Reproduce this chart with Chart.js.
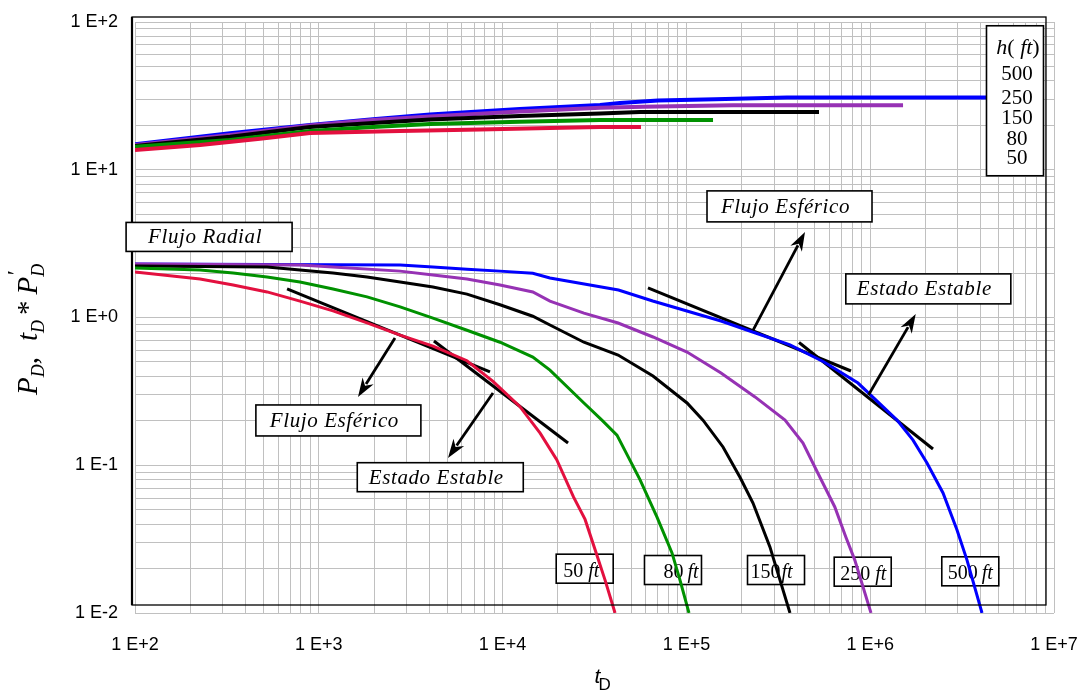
<!DOCTYPE html>
<html>
<head>
<meta charset="utf-8">
<title>PD y tD*PD' para varios espesores</title>
<script src="https://cdn.jsdelivr.net/npm/chart.js"></script>
<style>
    html, body { margin: 0; padding: 0; background: #fff; }
    #cont { width: 1087px; height: 694px; }
</style>
</head>
<body>
<div id="cont"><canvas id="grafico" width="1087" height="694"></canvas></div>
<script>
// ---- datos (tD, PD y tD*PD') ----
// h = 50 ft
const tPres50 = [100, 226, 479, 896, 2770, 7540, 18100, 33900, 56600];
const pres50 = [13.6, 14.7, 16.2, 17.7, 18.3, 18.7, 19.2, 19.5, 19.5];
const tDer50 = [100, 226, 342, 523, 790, 1195, 1830, 2770, 4180, 6400, 8870, 12400, 16000, 19700, 24300, 28100, 31800, 36100, 40900];
const der50 = [2.03, 1.82, 1.66, 1.49, 1.29, 1.11, 0.92, 0.76, 0.64, 0.51, 0.37, 0.25, 0.165, 0.109, 0.061, 0.043, 0.027, 0.0167, 0.0100];

// h = 80 ft
const tPres80 = [100, 329, 896, 1970, 4030, 12400, 33900, 139600];
const pres80 = [14.3, 15.9, 18.3, 19.5, 20.4, 21.1, 21.7, 21.7];
const tDer80 = [100, 226, 342, 523, 790, 1195, 1830, 2770, 4180, 6400, 9680, 14600, 18100, 27700, 34700, 41900, 55900, 69200, 83500, 92300, 103300];
const der80 = [2.16, 2.10, 2.00, 1.88, 1.74, 1.56, 1.38, 1.18, 0.99, 0.82, 0.68, 0.54, 0.44, 0.264, 0.202, 0.160, 0.080, 0.0446, 0.0255, 0.0167, 0.0100];

// h = 150 ft
const tPres150 = [100, 329, 896, 1970, 4030, 12400, 33900, 55900, 526600];
const pres150 = [14.5, 16.7, 19.5, 20.7, 21.9, 23.1, 24.0, 24.6, 24.6];
const tDer150 = [100, 523, 790, 1195, 1830, 2770, 4180, 6400, 9680, 14600, 18100, 27700, 42500, 65800, 100800, 123100, 158200, 195700, 230300, 284700, 366100];
const der150 = [2.23, 2.20, 2.10, 2.00, 1.88, 1.74, 1.61, 1.44, 1.22, 1.02, 0.89, 0.68, 0.557, 0.402, 0.264, 0.202, 0.133, 0.083, 0.0555, 0.028, 0.0100];

// h = 250 ft
const tPres250 = [100, 329, 896, 1970, 4030, 12400, 33900, 58000, 179300, 1509000];
const pres250 = [14.7, 17.2, 19.9, 21.7, 22.9, 24.8, 26.3, 26.7, 27.3, 27.3];
const tDer250 = [100, 790, 1195, 2770, 4180, 6400, 9680, 14600, 18100, 27700, 42500, 65800, 100800, 154300, 236200, 344000, 430900, 518600, 641800, 736800, 824500, 1010000];
const der250 = [2.30, 2.27, 2.20, 2.06, 1.94, 1.82, 1.66, 1.49, 1.29, 1.07, 0.918, 0.738, 0.584, 0.421, 0.290, 0.202, 0.1415, 0.0886, 0.0522, 0.0327, 0.0228, 0.0100];

// h = 500 ft
const tPres500 = [100, 329, 896, 1970, 4030, 12400, 33900, 43500, 70100, 143100, 352600, 4320000];
const pres500 = [14.9, 17.7, 20.1, 22.0, 23.7, 25.8, 27.4, 28.3, 29.4, 30.0, 30.8, 30.8];
const tDer500 = [100, 2770, 4180, 6400, 9680, 14600, 18100, 42700, 65600, 154300, 237700, 366100, 560700, 858300, 1399000, 1710000, 2037000, 2490000, 2967000, 3363000, 4058000];
const der500 = [2.30, 2.27, 2.20, 2.12, 2.06, 1.99, 1.85, 1.535, 1.293, 0.947, 0.785, 0.652, 0.500, 0.360, 0.202, 0.148, 0.1036, 0.0649, 0.0365, 0.0228, 0.0100];

// rectas tangentes (flujo esferico y estado estable), extremos en tD / valor
const tTangentes = [[672, 8540], [4230, 22700], [61800, 786000], [410000, 2196000]];
const vTangentes = [[1.56, 0.428], [0.693, 0.1415], [1.584, 0.4345], [0.677, 0.1288]];

// ejes
const decadasX = [1e2, 1e3, 1e4, 1e5, 1e6, 1e7];
const etiquetasX = ['1 E+2', '1 E+3', '1 E+4', '1 E+5', '1 E+6', '1 E+7'];
const decadasY = [1e-2, 1e-1, 1, 10, 100];
const etiquetasY = ['1 E-2', '1 E-1', '1 E+0', '1 E+1', '1 E+2'];

const espesores = ['50', '80', '150', '250', '500'];
const colores = ['#e3103f', '#009100', '#000000', '#9632b4', '#0000ff'];

// ---- anotaciones (posicion en coordenadas de datos) ----
const cajas = [
    { texto: 'Flujo Radial', t: 253, v: 3.51, w: 166, h: 29 },
    { texto: 'Flujo Esférico', t: 1278, v: 0.201, w: 165, h: 31 },
    { texto: 'Estado Estable', t: 4580, v: 0.083, w: 166, h: 29 },
    { texto: 'Flujo Esférico', t: 363900, v: 5.65, w: 165, h: 31 },
    { texto: 'Estado Estable', t: 2071000, v: 1.562, w: 165, h: 30 }
];
const flechas = [
    { t0: 2597, v0: 0.727, t1: 1634, v1: 0.290 },
    { t0: 8866, v0: 0.308, t1: 5045, v1: 0.112 },
    { t0: 230300, v0: 0.817, t1: 441900, v1: 3.79 },
    { t0: 979000, v0: 0.299, t1: 1769000, v1: 1.056 }
];
const cajasH = [
    { t: 27970, v: 0.01995, pad: 7, sep: 5 },
    { t: 84530, v: 0.01954, pad: 19, sep: 4 },
    { t: 307300, v: 0.01954, pad: 3, sep: 1 },
    { t: 910500, v: 0.01904, pad: 6, sep: 5 },
    { t: 3504000, v: 0.01915, pad: 6, sep: 4 }
];
const leyenda = { t: 6134000, v: 29.3, w: 57, h: 150 };

const SERIF = '"Liberation Serif", "Times New Roman", serif';
const SANS = '"Liberation Sans", Arial, sans-serif';

function serie(ts, vs, color, ancho) {
    return {
        data: ts.map((t, i) => ({ x: t, y: vs[i] })),
        borderColor: color,
        backgroundColor: color,
        borderWidth: ancho,
        showLine: true,
        pointRadius: 0,
        fill: false,
        tension: 0
    };
}

function ticksLog(min, max) {
    const out = [];
    for (let e = Math.round(Math.log10(min)); e < Math.round(Math.log10(max)); e++) {
        for (let m = 1; m < 10; m++) {
            out.push({ value: Number((m * Math.pow(10, e)).toPrecision(6)) });
        }
    }
    out.push({ value: max });
    return out;
}

function etiqueta(valor, decadas, textos) {
    const i = decadas.findIndex(d => Math.abs(d - valor) / d < 1e-6);
    return i >= 0 ? textos[i] : '';
}

function caja(ctx, cx, cy, w, h) {
    ctx.fillStyle = '#fff';
    ctx.fillRect(cx - w / 2, cy - h / 2, w, h);
    ctx.strokeStyle = '#000';
    ctx.lineWidth = 1.6;
    ctx.strokeRect(cx - w / 2, cy - h / 2, w, h);
}

function flecha(ctx, x0, y0, x1, y1) {
    const ang = Math.atan2(y1 - y0, x1 - x0);
    const largo = 19, medio = 6.5;
    ctx.strokeStyle = '#000';
    ctx.fillStyle = '#000';
    ctx.lineWidth = 2.8;
    ctx.beginPath();
    ctx.moveTo(x0, y0);
    ctx.lineTo(x1 - Math.cos(ang) * largo * 0.8, y1 - Math.sin(ang) * largo * 0.8);
    ctx.stroke();
    ctx.beginPath();
    ctx.moveTo(x1, y1);
    ctx.lineTo(x1 - Math.cos(ang) * largo + Math.sin(ang) * medio, y1 - Math.sin(ang) * largo - Math.cos(ang) * medio);
    ctx.lineTo(x1 - Math.cos(ang) * largo * 0.7, y1 - Math.sin(ang) * largo * 0.7);
    ctx.lineTo(x1 - Math.cos(ang) * largo - Math.sin(ang) * medio, y1 - Math.sin(ang) * largo + Math.cos(ang) * medio);
    ctx.closePath();
    ctx.fill();
}

const anotaciones = {
    id: 'anotaciones',
    beforeDatasetsDraw(chart) {
        const ctx = chart.ctx;
        const sx = chart.scales.x, sy = chart.scales.y;
        ctx.save();
        // cajas con el espesor al pie de cada curva
        cajasH.forEach((c, i) => {
            const cx = sx.getPixelForValue(c.t), cy = sy.getPixelForValue(c.v);
            caja(ctx, cx, cy, 57, 29);
            const x0 = cx - 28.5 + c.pad;
            ctx.fillStyle = '#000';
            ctx.textAlign = 'left';
            ctx.textBaseline = 'alphabetic';
            ctx.font = '20px ' + SERIF;
            ctx.fillText(espesores[i], x0, cy + 8);
            const w = ctx.measureText(espesores[i]).width;
            ctx.font = 'italic 20px ' + SERIF;
            ctx.fillText('ft', x0 + w + c.sep, cy + 8);
        });
        ctx.restore();
    },
    afterDatasetsDraw(chart) {
        const ctx = chart.ctx;
        const area = chart.chartArea;
        const sx = chart.scales.x, sy = chart.scales.y;
        ctx.save();
        // marco del grafico
        ctx.strokeStyle = '#000';
        ctx.lineWidth = 1.3;
        ctx.strokeRect(area.left - 3, area.top - 5, area.right - area.left - 5, area.bottom - area.top - 3);
        ctx.lineWidth = 2.2;
        ctx.beginPath();
        ctx.moveTo(area.left - 3, area.top - 5);
        ctx.lineTo(area.left - 3, area.bottom - 8);
        ctx.stroke();

        // cajas de regimen de flujo
        cajas.forEach(c => {
            const cx = sx.getPixelForValue(c.t), cy = sy.getPixelForValue(c.v);
            caja(ctx, cx, cy, c.w, c.h);
            ctx.fillStyle = '#000';
            ctx.font = 'italic 21px ' + SERIF;
            ctx.letterSpacing = '0.6px';
            ctx.textAlign = 'center';
            ctx.textBaseline = 'middle';
            ctx.fillText(c.texto, cx - 4, cy + 1);
            ctx.letterSpacing = '0px';
        });

        // flechas
        flechas.forEach(f => {
            flecha(ctx, sx.getPixelForValue(f.t0), sy.getPixelForValue(f.v0),
                sx.getPixelForValue(f.t1), sy.getPixelForValue(f.v1));
        });

        // leyenda h(ft)
        const lx = sx.getPixelForValue(leyenda.t), ly = sy.getPixelForValue(leyenda.v);
        caja(ctx, lx, ly, leyenda.w, leyenda.h);
        const top = ly - leyenda.h / 2;
        ctx.fillStyle = '#000';
        ctx.textBaseline = 'alphabetic';
        ctx.textAlign = 'left';
        const partes = [['h', 'italic'], ['( ', ''], ['ft', 'italic'], [')', '']];
        let total = 0;
        partes.forEach(p => { ctx.font = (p[1] ? p[1] + ' ' : '') + '22px ' + SERIF; total += ctx.measureText(p[0]).width; });
        let px = lx + 3 - total / 2;
        partes.forEach(p => {
            ctx.font = (p[1] ? p[1] + ' ' : '') + '22px ' + SERIF;
            ctx.fillText(p[0], px, top + 28);
            px += ctx.measureText(p[0]).width;
        });
        ctx.textAlign = 'center';
        ctx.font = '21px ' + SERIF;
        const orden = espesores.slice().reverse();
        const dys = [54, 78, 98, 119, 138];
        orden.forEach((e, i) => ctx.fillText(e, lx + 2, top + dys[i]));
        ctx.restore();
    },
    afterDraw(chart) {
        const ctx = chart.ctx;
        const area = chart.chartArea;
        ctx.save();
        ctx.fillStyle = '#000';
        ctx.textBaseline = 'alphabetic';
        ctx.textAlign = 'left';
        // titulo eje x: tD
        const xc = (area.left + area.right) / 2;
        ctx.font = 'italic 21px ' + SANS;
        ctx.fillText('t', xc, 683);
        ctx.font = '17px ' + SANS;
        ctx.fillText('D', xc + 4, 690);

        // titulo eje y: PD,  tD * P'D (rotado)
        ctx.translate(37, 395);
        ctx.rotate(-Math.PI / 2);
        let x = 0;
        const grande = 'italic 29px ' + SERIF;
        const sub = 'italic 18px ' + SERIF;
        function pieza(txt, font, dy, avanza) {
            ctx.font = font;
            ctx.fillText(txt, x, dy);
            const w = ctx.measureText(txt).width;
            if (avanza) x += w;
            return w;
        }
        pieza('P', grande, 0, true);
        pieza('D', sub, 7, true);
        pieza(',', '29px ' + SERIF, 0, true);
        x += 16;
        pieza('t', grande, 0, true);
        pieza('D', sub, 7, true);
        x += 5;
        pieza('*', '29px ' + SERIF, 0, true);
        x += 6;
        pieza('P', grande, 0, true);
        const wp = pieza('\u2032', 'italic 24px ' + SERIF, -14, false);
        const wd = pieza('D', sub, 7, false);
        x += Math.max(wp, wd);
        ctx.restore();
    }
};

const datasets = [];
const tp = [tPres50, tPres80, tPres150, tPres250, tPres500];
const vp = [pres50, pres80, pres150, pres250, pres500];
const td = [tDer50, tDer80, tDer150, tDer250, tDer500];
const vd = [der50, der80, der150, der250, der500];
for (let i = 0; i < espesores.length; i++) {
    datasets.push(serie(tp[i], vp[i], colores[i], 4));
    datasets.push(serie(td[i], vd[i], colores[i], 3));
}
for (let i = 0; i < tTangentes.length; i++) {
    datasets.push(serie(tTangentes[i], vTangentes[i], '#000000', 3));
}

new Chart(document.getElementById('grafico'), {
    type: 'scatter',
    data: { datasets: datasets },
    options: {
        responsive: false,
        animation: false,
        devicePixelRatio: 1,
        layout: { padding: { left: 0, top: 22, right: 33, bottom: 0 } },
        plugins: { legend: { display: false }, tooltip: { enabled: false } },
        scales: {
            x: {
                type: 'logarithmic',
                min: 1e2,
                max: 1e7,
                afterBuildTicks: s => { s.ticks = ticksLog(1e2, 1e7); },
                afterFit: s => {
                    s.height = 81;
                    s.paddingLeft = 0;
                    s.paddingRight = 0;
                },
                border: { display: false },
                grid: { color: '#c0c0c0', lineWidth: 1, drawTicks: false },
                ticks: {
                    autoSkip: false,
                    maxRotation: 0,
                    padding: 21,
                    color: '#000',
                    font: { family: SANS, size: 18 },
                    callback: v => etiqueta(v, decadasX, etiquetasX)
                }
            },
            y: {
                type: 'logarithmic',
                min: 1e-2,
                max: 1e2,
                afterBuildTicks: s => { s.ticks = ticksLog(1e-2, 1e2); },
                afterFit: s => {
                    s.width = 135;
                    s.paddingTop = 0;
                    s.paddingBottom = 0;
                },
                border: { display: false },
                grid: { color: '#c0c0c0', lineWidth: 1, drawTicks: false },
                ticks: {
                    autoSkip: false,
                    padding: 17,
                    color: '#000',
                    font: { family: SANS, size: 18 },
                    callback: v => etiqueta(v, decadasY, etiquetasY)
                }
            }
        }
    },
    plugins: [anotaciones]
});
</script>
</body>
</html>
